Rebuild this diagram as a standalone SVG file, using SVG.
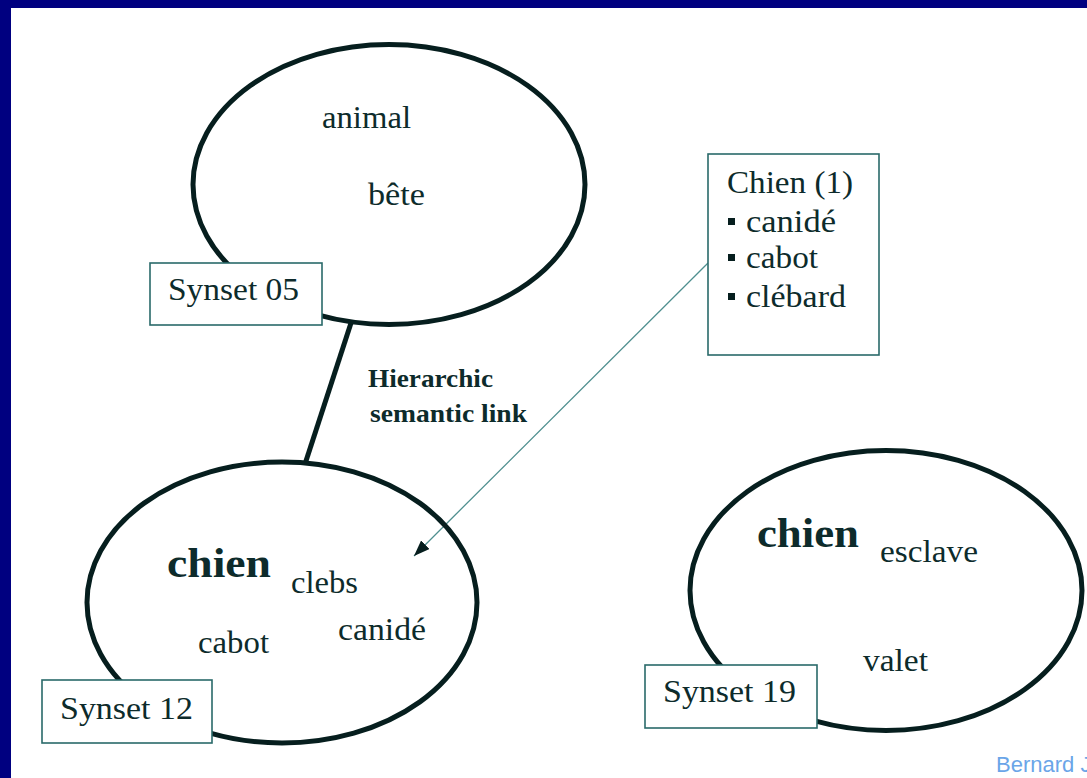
<svg xmlns="http://www.w3.org/2000/svg" width="1087" height="778" viewBox="0 0 1087 778">
<style>
.t{font-family:"Liberation Serif","Times New Roman",serif;font-size:31px;fill:#0d2b2b}
.b{font-weight:bold}
.big{font-size:42px}
.lbl{font-size:26px}
.ell{fill:none;stroke:#061e1e;stroke-width:5}
.box{fill:#fff;stroke:#2a6a6a;stroke-width:1.6}
.link{stroke:#061e1e;stroke-width:5;fill:none}
.ref{stroke:#4f8f8f;stroke-width:1.3;fill:none}
</style>
<defs>
<marker id="ah" viewBox="0 0 16 12" refX="16" refY="6" markerWidth="16" markerHeight="12" markerUnits="userSpaceOnUse" orient="auto">
<path d="M0,0 L16,6 L0,12 Z" fill="#061e1e"/>
</marker>
</defs>
<rect x="0" y="0" width="1087" height="778" fill="#000080"/>
<rect x="11" y="8" width="1076" height="770" fill="#ffffff"/>

<g id="connectors">
<line class="link" x1="351" y1="323" x2="305" y2="464"/>
<line class="ref" x1="708" y1="263" x2="414" y2="556" marker-end="url(#ah)"/>
<text class="t b lbl" x="368" y="387" textLength="125" lengthAdjust="spacingAndGlyphs">Hierarchic</text>
<text class="t b lbl" x="370" y="422" textLength="157" lengthAdjust="spacingAndGlyphs">semantic link</text>
</g>

<g id="synset05">
<ellipse class="ell" cx="389" cy="184.5" rx="196" ry="140"/>
<text class="t" x="322" y="128" textLength="89" lengthAdjust="spacingAndGlyphs">animal</text>
<text class="t" x="368" y="205" textLength="57" lengthAdjust="spacingAndGlyphs">bête</text>
<rect class="box" x="150" y="263" width="172" height="62"/>
<text class="t" x="168" y="300" textLength="131" lengthAdjust="spacingAndGlyphs">Synset 05</text>
</g>

<g id="chien1">
<rect class="box" x="708" y="154" width="171" height="201"/>
<text class="t" x="727" y="193" textLength="126" lengthAdjust="spacingAndGlyphs">Chien (1)</text>
<rect x="728" y="218" width="7" height="7" fill="#061e1e"/>
<text class="t" x="746" y="232" textLength="90" lengthAdjust="spacingAndGlyphs">canidé</text>
<rect x="728" y="254" width="7" height="7" fill="#061e1e"/>
<text class="t" x="746" y="268" textLength="72" lengthAdjust="spacingAndGlyphs">cabot</text>
<rect x="728" y="293" width="7" height="7" fill="#061e1e"/>
<text class="t" x="746" y="307" textLength="100" lengthAdjust="spacingAndGlyphs">clébard</text>
</g>

<g id="synset12">
<ellipse class="ell" cx="282" cy="602.5" rx="195" ry="140.5"/>
<text class="t b big" x="167" y="577" textLength="104" lengthAdjust="spacingAndGlyphs">chien</text>
<text class="t" x="291" y="593" textLength="67" lengthAdjust="spacingAndGlyphs">clebs</text>
<text class="t" x="338" y="640" textLength="88" lengthAdjust="spacingAndGlyphs">canidé</text>
<text class="t" x="198" y="653" textLength="71" lengthAdjust="spacingAndGlyphs">cabot</text>
<rect class="box" x="42" y="680" width="170" height="63"/>
<text class="t" x="60" y="719" textLength="133" lengthAdjust="spacingAndGlyphs">Synset 12</text>
</g>

<g id="synset19">
<ellipse class="ell" cx="886" cy="590.5" rx="196" ry="140"/>
<text class="t b big" x="757" y="547" textLength="102" lengthAdjust="spacingAndGlyphs">chien</text>
<text class="t" x="880" y="562" textLength="98" lengthAdjust="spacingAndGlyphs">esclave</text>
<text class="t" x="863" y="671" textLength="65" lengthAdjust="spacingAndGlyphs">valet</text>
<rect class="box" x="645" y="665" width="172" height="63"/>
<text class="t" x="663" y="702" textLength="133" lengthAdjust="spacingAndGlyphs">Synset 19</text>
</g>

<text x="996" y="772" font-family="Liberation Sans, Arial, sans-serif" font-size="22" fill="#6aa5e8">Bernard J</text>
</svg>
